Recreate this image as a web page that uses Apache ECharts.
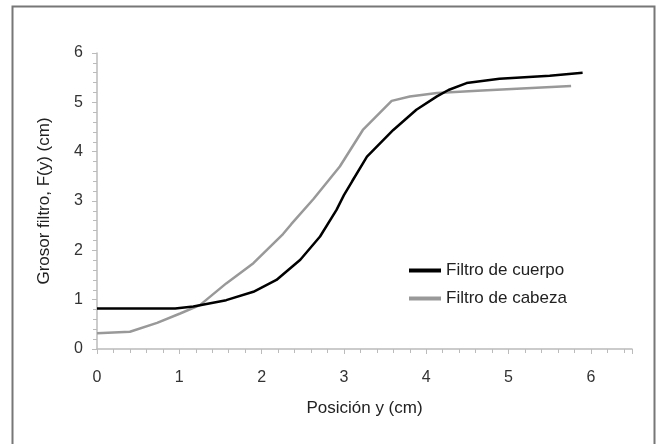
<!DOCTYPE html>
<html>
<head>
<meta charset="utf-8">
<script src="https://cdn.jsdelivr.net/npm/echarts@6/dist/echarts.min.js"></script>
<style>html,body{margin:0;padding:0;background:#fff;}#c{width:658px;height:444px;}</style>
</head>
<body>
<div id="c"></div>
<script>
var seriesNames = ['Filtro de cuerpo', 'Filtro de cabeza'];
var bodyX = [0, 0.95, 1.17, 1.57, 1.90, 2.18, 2.47, 2.71, 2.91, 3.0, 3.1, 3.28, 3.60, 3.88, 4.13, 4.27, 4.49, 4.89, 5.5, 5.9];
var bodyY = [0.82, 0.82, 0.86, 0.99, 1.16, 1.40, 1.81, 2.28, 2.82, 3.12, 3.40, 3.90, 4.44, 4.85, 5.12, 5.25, 5.39, 5.48, 5.54, 5.6];
var headX = [0, 0.4, 0.73, 1.01, 1.25, 1.57, 1.90, 2.26, 2.36, 2.63, 2.95, 3.23, 3.58, 3.80, 4.13, 4.68, 5.76];
var headY = [0.32, 0.35, 0.53, 0.72, 0.89, 1.33, 1.74, 2.33, 2.53, 3.04, 3.70, 4.44, 5.03, 5.12, 5.19, 5.24, 5.33];
var xTitle = 'Posición y (cm)';
var yTitle = 'Grosor filtro, F(y) (cm)';

function pairs(xs, ys) { return xs.map(function (x, i) { return [x, ys[i]]; }); }

var font = '"Liberation Sans", Arial, sans-serif';
var chart = echarts.init(document.getElementById('c'), null, { renderer: 'canvas' });
chart.setOption({
  animation: false,
  backgroundColor: '#fff',
  textStyle: { fontFamily: font },
  grid: { left: 97, right: 26, top: 53, bottom: 95 },
  graphic: [{
    type: 'rect', silent: true, z: 100,
    shape: { x: 12.5, y: 6.5, width: 642, height: 470 },
    style: { fill: 'none', stroke: '#777', lineWidth: 2 }
  }],
  legend: {
    orient: 'vertical', left: 404, top: 256, itemWidth: 32, itemHeight: 4, itemGap: 9,
    icon: 'rect',
    data: [
      { name: seriesNames[0], itemStyle: { color: '#000' } },
      { name: seriesNames[1], itemStyle: { color: '#999' } }
    ],
    textStyle: { fontSize: 17, color: '#222', fontFamily: font, lineHeight: 19 }
  },
  xAxis: {
    type: 'value', min: 0, max: 6.5, interval: 1,
    name: xTitle, nameLocation: 'middle', nameGap: 51,
    nameTextStyle: { fontSize: 17, color: '#222', fontFamily: font },
    axisLine: { lineStyle: { color: '#bbb', width: 1.5 } },
    axisTick: { show: true, length: 5, lineStyle: { color: '#bbb' } },
    minorTick: { show: true, splitNumber: 5, length: 4, lineStyle: { color: '#bbb' } },
    splitLine: { show: false },
    axisLabel: {
      fontSize: 16, color: '#333', margin: 21, fontFamily: font,
      formatter: function (v) { return Number.isInteger(v) ? String(v) : ''; }
    }
  },
  yAxis: {
    type: 'value', min: 0, max: 6, interval: 1,
    name: yTitle, nameLocation: 'middle', nameGap: 44, nameRotate: 90,
    nameTextStyle: { fontSize: 17, color: '#222', fontFamily: font },
    axisLine: { show: true, lineStyle: { color: '#bbb', width: 1.5 } },
    axisTick: { show: true, length: 5, lineStyle: { color: '#bbb' } },
    minorTick: { show: true, splitNumber: 5, length: 4, lineStyle: { color: '#bbb' } },
    splitLine: { show: false },
    axisLabel: { fontSize: 16, color: '#333', margin: 14, fontFamily: font }
  },
  series: [
    {
      name: seriesNames[0], type: 'line', data: pairs(bodyX, bodyY), z: 4,
      symbol: 'none', smooth: false,
      lineStyle: { color: '#000', width: 2.5 }, itemStyle: { color: '#000' }
    },
    {
      name: seriesNames[1], type: 'line', data: pairs(headX, headY), z: 3,
      symbol: 'none', smooth: false,
      lineStyle: { color: '#999', width: 2.5 }, itemStyle: { color: '#999' }
    }
  ]
});
</script>
</body>
</html>
